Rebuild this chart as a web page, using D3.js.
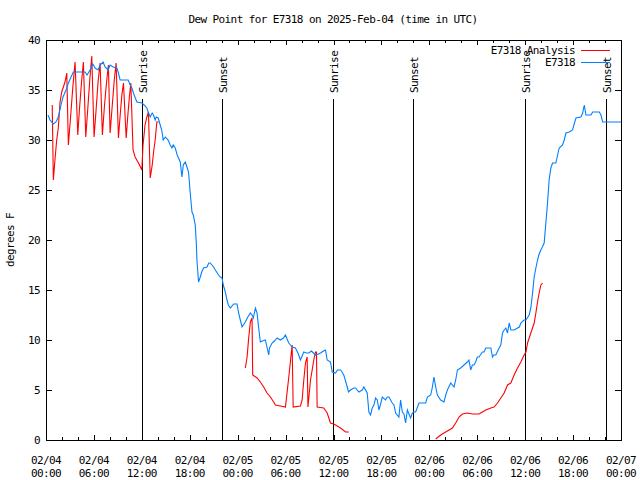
<!DOCTYPE html>
<html><head><meta charset="utf-8">
<script src="https://cdn.jsdelivr.net/npm/d3@7"></script>
<style>
body{margin:0;background:#fff}
svg text{font-family:"DejaVu Sans Mono","Liberation Mono",monospace;font-size:11px;letter-spacing:-0.6px;fill:#000}
</style></head><body>
<svg id="c" width="640" height="480"></svg>
<script>
const titleText = "Dew Point for E7318 on 2025-Feb-04 (time in UTC)";
const yLabelText = "degrees F";
const seriesNames = ["E7318 Analysis", "E7318"];
const seriesColors = ["#ff0000", "#0080ff"];
const yTicks = [0, 5, 10, 15, 20, 25, 30, 35, 40];
const startUTC = Date.UTC(2025, 1, 4, 0, 0);
const xMinorHours = d3.range(0, 73, 2);
const xLabelHours = d3.range(0, 73, 6);
const sunHours = [12.06, 22.08, 35.98, 45.99, 60.02, 70.06];
const sunLabels = ["Sunrise", "Sunset", "Sunrise", "Sunset", "Sunrise", "Sunset"];

// E7318 Analysis (null = gap)
const redHours = [0.78,0.92,1.12,1.34,1.54,1.76,1.97,2.38,2.60,2.80,3.05,3.35,3.64,3.98,4.20,4.45,4.68,4.98,5.22,5.48,5.73,6.02,6.27,6.52,6.77,7.06,7.30,7.56,7.81,8.03,8.30,8.55,8.78,9.07,9.30,9.50,9.70,10.04,10.25,10.45,10.62,10.90,11.16,11.58,12.00,12.15,12.40,12.63,12.83,13.05,13.30,13.50,13.67,13.88,14.09,
  14.5,
  24.96,25.18,25.38,25.59,25.80,25.88,26.43,26.84,27.26,27.68,28.10,28.51,28.73,29.35,29.98,30.39,30.69,30.82,30.95,31.86,32.07,32.28,32.49,32.70,32.80,33.12,33.33,33.53,33.74,33.87,33.95,34.78,35.21,35.62,36.04,36.88,37.51,37.92,
  40,
  48.80,49.42,50.05,50.89,51.30,51.72,52.14,52.77,53.40,54.23,54.65,55.07,55.70,56.11,56.54,56.95,57.37,57.79,58.20,58.62,59.04,59.46,59.87,60.10,60.30,60.71,61.13,61.34,61.55,61.75,61.97,62.18];
const redValues = [33.5,26.0,28.0,30.0,31.2,33.8,34.8,35.8,36.7,29.5,32.0,35.2,37.8,30.5,33.2,35.8,37.8,30.3,33.0,36.0,38.4,30.3,33.0,35.8,37.7,30.5,33.2,35.6,37.5,30.7,33.5,36.0,37.7,30.2,32.6,34.5,35.7,30.2,32.5,34.4,35.7,29.0,28.3,27.7,27.0,29.5,31.5,32.3,32.8,26.2,27.5,29.0,30.0,31.8,31.8,
  null,
  7.2,8.3,10.2,11.8,12.2,6.5,6.2,5.8,5.3,4.7,4.3,3.8,3.5,3.4,3.3,6.2,8.5,9.5,3.3,3.4,4.0,6.0,7.7,8.3,3.3,6.0,7.0,8.0,8.8,8.8,3.3,3.2,2.7,1.7,1.6,1.2,0.8,0.8,
  null,
  0.1,0.5,0.8,1.2,1.7,2.3,2.6,2.7,2.6,2.6,2.8,3.0,3.2,3.3,3.7,4.2,4.7,5.5,5.7,6.5,7.2,7.8,8.5,8.8,9.7,10.7,11.7,12.7,13.8,14.7,15.5,15.7];

// E7318 observations
const blueHours = [0.25,0.50,0.92,1.25,1.54,1.88,2.13,2.51,2.80,3.42,4.89,5.14,5.52,5.86,6.15,6.52,6.77,7.15,7.40,7.78,8.03,8.40,8.87,9.03,9.28,10.29,10.54,10.75,11.04,11.38,12.00,12.29,12.63,12.79,13.05,13.30,13.46,13.67,13.80,14.05,14.30,14.49,14.68,14.93,15.30,15.55,15.77,15.93,16.18,16.43,16.81,17.02,17.19,17.44,17.69,17.85,18.06,18.28,18.44,18.69,18.82,18.90,19.10,19.32,19.50,19.73,20.16,20.38,20.57,20.99,21.20,21.61,21.83,22.04,22.20,22.45,22.67,22.83,23.08,23.50,23.92,24.12,24.33,24.55,24.96,25.27,25.59,25.80,25.96,26.22,26.43,26.59,26.84,27.09,27.47,27.89,27.98,28.31,28.60,28.94,29.35,29.73,29.98,30.39,30.61,30.82,31.23,31.55,31.86,32.28,32.61,32.90,33.24,33.74,34.12,34.37,34.75,35.00,35.21,35.62,35.84,36.25,36.50,36.88,37.07,37.29,37.51,37.72,37.88,38.13,38.55,38.76,39.18,39.60,39.80,40.22,40.43,40.64,40.85,41.06,41.27,41.48,41.69,41.90,42.11,42.52,42.73,42.94,43.36,43.57,43.78,44.19,44.40,44.62,44.82,45.03,45.25,45.45,45.66,45.87,46.04,46.29,46.70,47.13,47.54,47.76,48.17,48.36,48.58,48.80,49.01,49.42,49.84,50.05,50.26,50.68,51.09,51.30,51.52,51.93,52.34,52.76,52.96,53.18,53.39,53.59,53.80,54.01,54.22,54.64,54.85,55.07,55.70,55.91,56.07,56.32,56.74,56.95,57.16,57.37,57.58,57.79,58.00,58.21,58.62,59.04,59.27,59.46,59.84,60.09,60.50,60.71,60.93,61.13,61.34,61.55,61.71,61.96,62.15,62.38,62.59,62.80,63.00,63.22,63.43,63.84,64.06,64.26,64.68,64.89,65.10,65.52,65.94,66.10,66.36,66.98,67.20,67.40,67.61,68.24,68.45,69.28,69.49,69.70,70.12,72.0];
const blueValues = [32.5,32.0,31.6,31.8,32.3,33.5,34.3,35.0,35.7,36.8,36.8,36.5,37.0,37.6,37.2,37.0,37.5,37.8,37.3,37.0,37.5,37.3,37.2,36.8,36.0,36.0,35.5,35.2,34.5,33.8,33.7,33.5,33.2,32.8,32.3,32.7,32.5,32.0,32.3,32.2,31.5,31.0,30.0,30.3,30.0,29.5,29.2,29.5,29.2,28.5,27.8,26.3,27.5,27.8,27.2,26.8,24.7,22.8,22.5,21.5,19.7,18.0,15.8,16.3,16.8,17.2,17.3,17.7,17.7,17.3,17.0,16.5,16.3,16.2,15.5,14.8,14.0,13.5,13.2,13.6,13.6,12.7,12.0,11.3,11.8,12.3,12.7,12.5,12.2,13.2,12.7,11.5,9.8,9.9,10.0,8.5,9.2,9.7,9.9,10.2,10.0,10.2,10.5,9.7,9.5,9.3,9.2,8.7,8.0,8.8,8.7,8.7,8.9,8.5,8.6,8.7,8.9,9.0,8.0,7.8,6.8,6.7,7.0,7.0,6.8,6.5,5.9,5.3,4.8,5.0,5.2,5.2,4.8,5.0,5.3,4.7,2.8,2.5,3.2,3.5,4.2,4.0,3.0,3.6,4.3,4.0,4.3,4.3,3.7,3.5,2.7,2.3,4.0,2.8,2.6,1.7,3.0,2.6,2.2,2.7,2.8,2.8,3.7,3.7,3.7,4.3,4.5,5.2,6.3,5.3,4.5,4.0,3.8,4.5,5.0,5.7,5.3,6.0,7.0,7.2,7.5,7.8,8.0,7.0,7.5,7.5,7.8,8.3,8.3,8.8,8.8,9.2,9.2,8.3,8.5,8.5,9.2,9.5,10.7,11.0,11.2,10.7,11.7,11.0,11.0,11.2,11.3,11.7,12.0,12.0,12.5,13.2,14.7,16.3,17.2,18.0,18.5,19.0,19.3,19.7,21.7,23.7,26.0,27.2,27.7,27.7,28.5,29.2,29.5,30.0,30.7,30.8,31.0,31.5,32.2,32.3,32.7,33.5,32.5,32.5,32.8,32.8,32.5,31.8,31.8,31.8];

const L = 46, R = 621, T = 40, B = 440;
const svg = d3.select("#c");
svg.append("rect").attr("width", 640).attr("height", 480).attr("fill", "#fff");

const x = d3.scaleLinear().domain([0, 72]).range([L, R]);
const y = d3.scaleLinear().domain([0, 40]).range([B, T]);

const fmtD = d3.utcFormat("%m/%d"), fmtT = d3.utcFormat("%H:%M");
const toDate = h => new Date(startUTC + h * 3600e3);

// ticks (inward, mirrored): major every 6h, minor every 2h
const tk = svg.append("g").style("stroke", "#000").attr("shape-rendering", "crispEdges");
xMinorHours.forEach(h => {
  const px = Math.round(x(h)) + 0.5;
  const len = (h % 6 === 0) ? 5 : 3;
  tk.append("line").attr("x1", px).attr("x2", px).attr("y1", B).attr("y2", B - len);
  tk.append("line").attr("x1", px).attr("x2", px).attr("y1", T).attr("y2", T + len);
});
yTicks.forEach(v => {
  const py = Math.round(y(v)) + 0.5;
  tk.append("line").attr("x1", L).attr("x2", L + 6).attr("y1", py).attr("y2", py);
  tk.append("line").attr("x1", R).attr("x2", R - 6).attr("y1", py).attr("y2", py);
});

// tick labels
yTicks.forEach(v => {
  svg.append("text").attr("x", 40).attr("y", y(v) + 4).attr("text-anchor", "end").text(v);
});
xLabelHours.forEach(h => {
  const t = svg.append("text").attr("text-anchor", "middle");
  t.append("tspan").attr("x", x(h)).attr("y", 464).text(fmtD(toDate(h)));
  t.append("tspan").attr("x", x(h)).attr("y", 477).text(fmtT(toDate(h)));
});

// title and y label
svg.append("text").attr("x", 333).attr("y", 23).attr("text-anchor", "middle").text(titleText);
svg.append("text").attr("transform", "translate(14,240) rotate(-90)").attr("text-anchor", "middle").text(yLabelText);

// clip
svg.append("clipPath").attr("id", "clp").append("rect").attr("x", L).attr("y", T).attr("width", R - L).attr("height", B - T);

// sunrise / sunset markers
sunHours.forEach((h, i) => {
  const px = Math.round(x(h)) + 0.5;
  svg.append("line").attr("x1", px).attr("x2", px).attr("y1", 99).attr("y2", B)
    .style("stroke", "#000").attr("shape-rendering", "crispEdges");
  svg.append("text").attr("transform", `translate(${px + 4},93) rotate(-90)`).text(sunLabels[i]);
});

// series lines
const redData = redHours.map((h, i) => [h, redValues[i]]);
const blueData = blueHours.map((h, i) => [h, blueValues[i]]);
const line = d3.line().defined(d => d[1] !== null).x(d => x(d[0])).y(d => y(d[1]));
const plot = svg.append("g").attr("clip-path", "url(#clp)");
plot.append("path").attr("d", line(redData)).style("fill", "none").style("stroke", seriesColors[0]).style("stroke-width", 1.1);
plot.append("path").attr("d", line(blueData)).style("fill", "none").style("stroke", seriesColors[1]).style("stroke-width", 1.1);

// frame
svg.append("rect").attr("x", L + 0.5).attr("y", T + 0.5).attr("width", R - L).attr("height", B - T)
  .style("fill", "none").style("stroke", "#000").attr("shape-rendering", "crispEdges");

// legend
const legY = [50, 62];
seriesNames.forEach((n, i) => {
  svg.append("text").attr("x", 575).attr("y", legY[i] + 4).attr("text-anchor", "end").text(n);
  svg.append("path").attr("d", d3.line()([[581, legY[i] + 0.5], [610, legY[i] + 0.5]]))
    .style("stroke", seriesColors[i]).style("stroke-width", 1).style("fill", "none").attr("shape-rendering", "crispEdges");
});
</script>
</body></html>
